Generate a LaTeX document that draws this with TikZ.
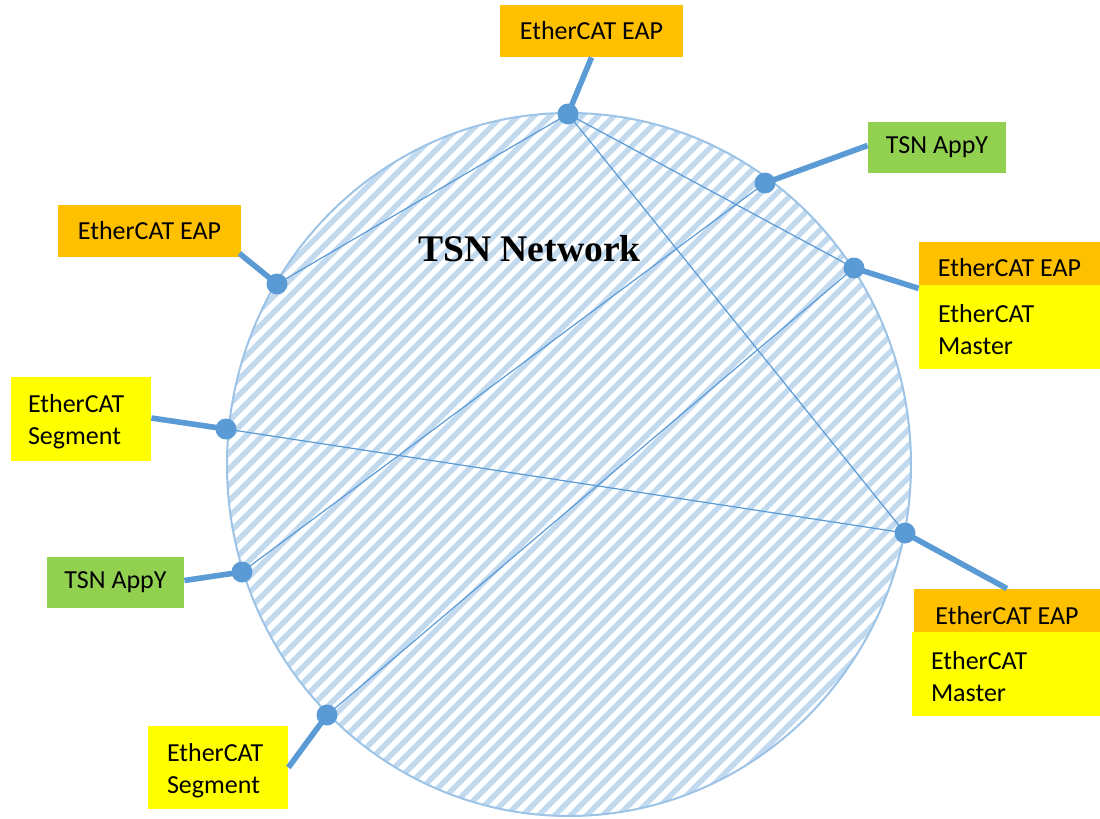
\documentclass[tikz,border=0pt]{standalone}
\usepackage{fontspec}
\setmainfont{Carlito}
\newfontfamily\titlefont{Liberation Serif}
\definecolor{eaporange}{HTML}{FFC000}
\definecolor{masteryellow}{HTML}{FFFF00}
\definecolor{appgreen}{HTML}{92D050}
\definecolor{linkblue}{HTML}{5B9BD5}
\definecolor{ringblue}{HTML}{9DC3E6}
\definecolor{hatchblue}{HTML}{C2DAF0}
\begin{document}
\begin{tikzpicture}[x=0.5pt,y=-0.5pt,
  box/.style={draw=none, inner sep=0pt, font=\fontsize{13}{16}\selectfont},
  eapbox/.style={box, fill=eaporange},
  appbox/.style={box, fill=appgreen},
  ybox/.style={box, fill=masteryellow},
  txt/.style={inner sep=0pt, align=left, anchor=west, font=\fontsize{13}{16}\selectfont},
  dot/.style={circle, fill=linkblue, inner sep=0pt, minimum size=10.5pt},
  chord/.style={draw=linkblue, line width=0.6pt},
  stub/.style={draw=linkblue, line width=2.8pt},
  hatch/.style={draw=hatchblue, line width=2.7pt},
  ring/.style={draw=ringblue, line width=1pt}
]
\useasboundingbox (0,0) rectangle (1100,819);

% hatched network area
\begin{scope}
  \clip (569,464.5) ellipse [x radius=171pt, y radius=175.75pt];
  \foreach \c in {330,346,...,1760} \draw[hatch] (\c,0) -- ({\c-900},900);
\end{scope}
\draw[ring] (569,464.5) ellipse [x radius=171pt, y radius=175.75pt];

\node[font=\titlefont\bfseries\fontsize{18.8}{22}\selectfont] (title) at (529.5,248.5) {TSN Network};

% boxes
\node[eapbox, minimum width=91.5pt, minimum height=26pt] (eapT) at (591.5,31) {EtherCAT EAP};
\node[appbox, minimum width=69pt, minimum height=25.5pt] (appR) at (937,147.5) {TSN AppY};
\node[eapbox, minimum width=90.5pt, minimum height=21.5pt] (eap1) at (1009.5,263.5) {};
\node[box] (eap1t) at ([yshift=-2pt]eap1.center) {EtherCAT EAP};
\node[ybox, minimum width=90.5pt, minimum height=42pt] (mas1) at (1009.5,327) {};
\node[txt] (mas1t) at ([xshift=9.5pt,yshift=-1.5pt]mas1.west) {EtherCAT\\Master};
\node[eapbox, minimum width=93pt, minimum height=21.5pt] (eap2) at (1007,610.5) {};
\node[box] (eap2t) at ([yshift=-2.5pt]eap2.center) {EtherCAT EAP};
\node[ybox, minimum width=94pt, minimum height=42pt] (mas2) at (1006,674) {};
\node[txt] (mas2t) at ([xshift=9.5pt,yshift=-1.5pt]mas2.west) {EtherCAT\\Master};
\node[eapbox, minimum width=91.5pt, minimum height=26pt] (eapL) at (149.5,231) {EtherCAT EAP};
\node[ybox, minimum width=70pt, minimum height=42pt] (segL) at (81,419) {};
\node[txt] (segLt) at ([xshift=8.5pt,yshift=-1.5pt]segL.west) {EtherCAT\\Segment};
\node[appbox, minimum width=68.5pt, minimum height=25.5pt] (appL) at (115.5,582.5) {TSN AppY};
\node[ybox, minimum width=70pt, minimum height=41.5pt] (segB) at (218,767.5) {};
\node[txt] (segBt) at ([xshift=9.5pt,yshift=-1.5pt]segB.west) {EtherCAT\\Segment};

% attachment points on the network
\node[dot] (pT) at (568,114) {};
\node[dot] (pAR) at (765,183) {};
\node[dot] (pE1) at (854,268) {};
\node[dot] (pE2) at (905,533) {};
\node[dot] (pSL) at (226,429) {};
\node[dot] (pAL) at (242,572) {};
\node[dot] (pSB) at (327,715) {};
\node[dot] (pEL) at (277,284) {};

% chords through the network
\draw[chord] (pT.center) -- (pEL.center);
\draw[chord] (pT.center) -- (pE1.center);
\draw[chord] (pT.center) -- (pE2.center);
\draw[chord] (pAR.center) -- (pAL.center);
\draw[chord] (pE1.center) -- (pSB.center);
\draw[chord] (pSL.center) -- (pE2.center);

% stubs to the boxes
\draw[stub] (pT.center) -- (eapT.south);
\draw[stub] (pAR.center) -- ([yshift=1pt]appR.west);
\draw[stub] (pE1.center) -- ([yshift=-1.5pt]eap1.south west);
\draw[stub] (pE2.center) -- (eap2.north);
\draw[stub] (pEL.center) -- ([xshift=-1pt,yshift=2pt]eapL.south east);
\draw[stub] (pSL.center) -- ([yshift=0.5pt]segL.east);
\draw[stub] (pAL.center) -- ([yshift=1pt]appL.east);
\draw[stub] (pSB.center) -- (segB.east);
\end{tikzpicture}
\end{document}
